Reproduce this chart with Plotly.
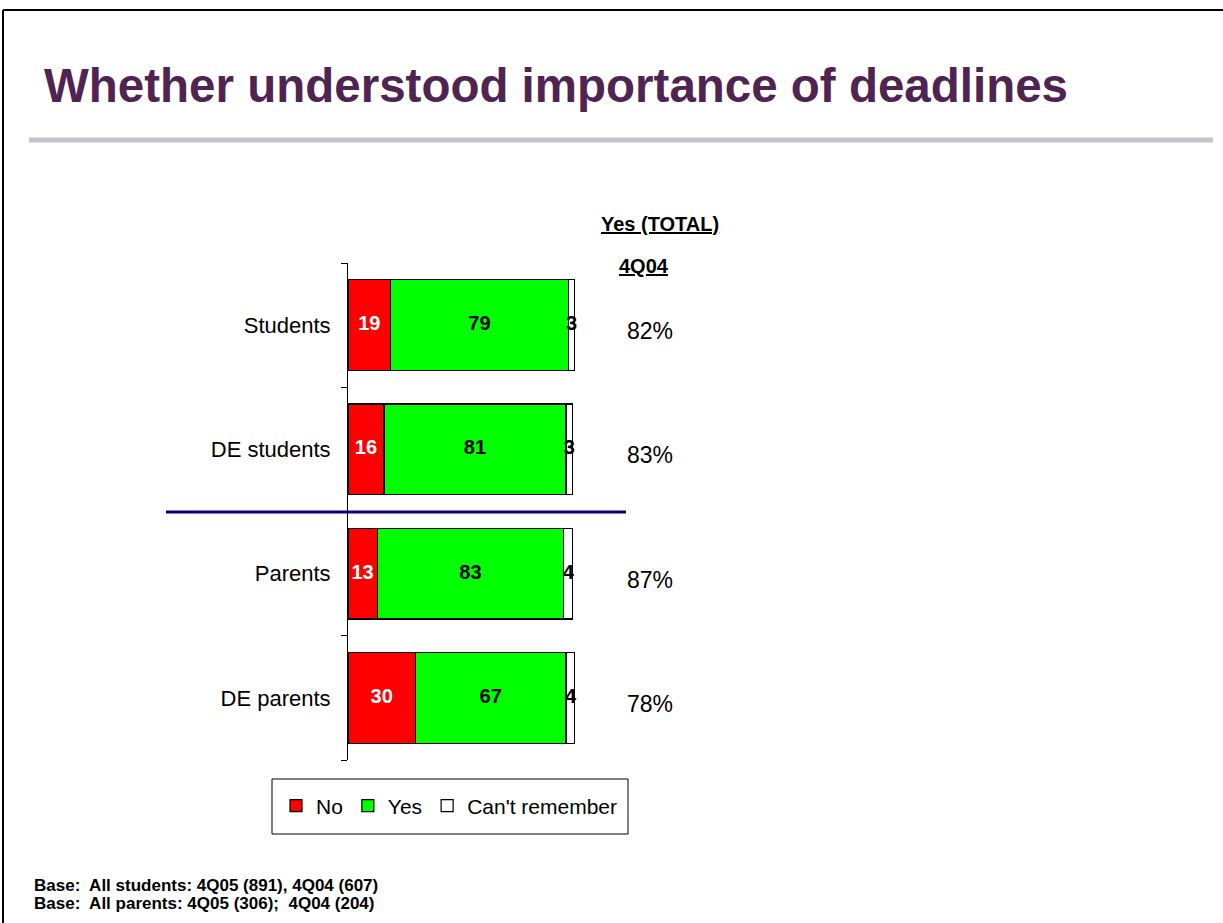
import plotly.graph_objects as go

W, H = 1223, 923

categories = ["Students", "DE students", "Parents", "DE parents"]
no_vals = [19, 16, 13, 30]
yes_vals = [79, 81, 83, 67]
cant_vals = [3, 3, 4, 4]
yes_total_4q04 = [82, 83, 87, 78]

title = "Whether understood importance of deadlines"
footnotes = ["Base:  All students: 4Q05 (891), 4Q04 (607)",
             "Base:  All parents: 4Q05 (306);  4Q04 (204)"]


def px_x(p):
    return p / W


def px_y(p):
    return 1 - p / H


FONT = "Liberation Sans, Arial"

fig = go.Figure()

series = [("No", no_vals, "#FF0000", "white"),
          ("Yes", yes_vals, "#00FF00", "black"),
          ("Can't remember", cant_vals, "#FFFFFF", "black")]

for name, vals, color, _ in series:
    fig.add_trace(go.Bar(
        y=categories, x=vals, name=name, orientation="h",
        marker=dict(color=color, line=dict(color="black", width=1.2)),
        hoverinfo="skip"))

# segment labels at the middle of each piece
base = [0] * len(categories)
for name, vals, _, tcolor in series:
    mids = [b + v / 2 for b, v in zip(base, vals)]
    fig.add_trace(go.Scatter(
        x=mids, y=categories, mode="text", text=[str(v) for v in vals],
        textfont=dict(family=FONT, size=20, color=tcolor),
        texttemplate="<b>%{text}</b>", showlegend=False, cliponaxis=False,
        hoverinfo="skip"))
    base = [b + v for b, v in zip(base, vals)]

# yes total column
for cat, v in zip(categories, yes_total_4q04):
    fig.add_annotation(x=px_x(650), xref="paper", y=cat, yref="y", yshift=-6,
                       xanchor="center", yanchor="middle",
                       text=f"{v}%", showarrow=False,
                       font=dict(size=23, color="black"))

fig.add_annotation(x=px_x(660), y=px_y(224), xref="paper", yref="paper",
                   xanchor="center", yanchor="middle",
                   text="<b><u>Yes (TOTAL)</u></b>", showarrow=False,
                   font=dict(size=20, color="black"))
fig.add_annotation(x=px_x(644), y=px_y(266), xref="paper", yref="paper",
                   xanchor="center", yanchor="middle",
                   text="<b><u>4Q04</u></b>", showarrow=False,
                   font=dict(size=20, color="black"))

fig.add_annotation(x=px_x(42), y=px_y(85), xref="paper", yref="paper",
                   xanchor="left", yanchor="middle", text=f"<b>{title}</b>",
                   showarrow=False, font=dict(size=47.5, color="#4F2452"))

for i, t in enumerate(footnotes):
    fig.add_annotation(x=px_x(32), y=px_y(885 + i * 18), xref="paper", yref="paper",
                       xanchor="left", yanchor="middle", text=f"<b>{t}</b>",
                       showarrow=False, font=dict(size=17, color="black"))

shapes = [
    # slide frame
    dict(type="line", xref="paper", yref="paper", x0=px_x(3), x1=px_x(1240),
         y0=px_y(10), y1=px_y(10), line=dict(color="black", width=2)),
    dict(type="line", xref="paper", yref="paper", x0=px_x(3), x1=px_x(3),
         y0=px_y(10), y1=px_y(940), line=dict(color="black", width=2)),
    # grey rule under title
    dict(type="line", xref="paper", yref="paper", x0=px_x(29), x1=px_x(1213),
         y0=px_y(140), y1=px_y(140), line=dict(color="#C3C3CF", width=5)),
    # students / parents divider
    dict(type="line", xref="paper", yref="paper", x0=px_x(166), x1=px_x(626),
         y0=px_y(512), y1=px_y(512), line=dict(color="#000080", width=3)),
    # legend frame
    dict(type="rect", xref="paper", yref="paper", x0=px_x(272), x1=px_x(628),
         y0=px_y(779), y1=px_y(834), line=dict(color="black", width=1)),
]

fig.update_layout(
    width=W, height=H, barmode="stack", bargap=0.27,
    paper_bgcolor="white", plot_bgcolor="white",
    font=dict(family=FONT, color="black", size=18),
    margin=dict(l=0, r=0, t=0, b=0),
    xaxis=dict(domain=[px_x(348), px_x(575)], range=[0, 101], visible=False,
               fixedrange=True),
    yaxis=dict(domain=[px_y(760), px_y(263)], categoryorder="array",
               categoryarray=categories[::-1], showline=True, linecolor="black",
               linewidth=1, ticks="outside", ticklen=6, tickcolor="black",
               tickson="boundaries", showgrid=False, ticklabelstandoff=12,
               tickfont=dict(size=22), fixedrange=True),
    legend=dict(orientation="h", x=px_x(276), y=px_y(806), xanchor="left",
                yanchor="middle", borderwidth=0, bgcolor="rgba(0,0,0,0)",
                font=dict(size=21), itemwidth=30, traceorder="normal"),
    shapes=shapes,
    showlegend=True,
)

# drop the page's default body margin so the figure sits at the window origin
fig.write_html("out.html", config={"displayModeBar": False},
               post_script="document.body.style.margin='0';")
